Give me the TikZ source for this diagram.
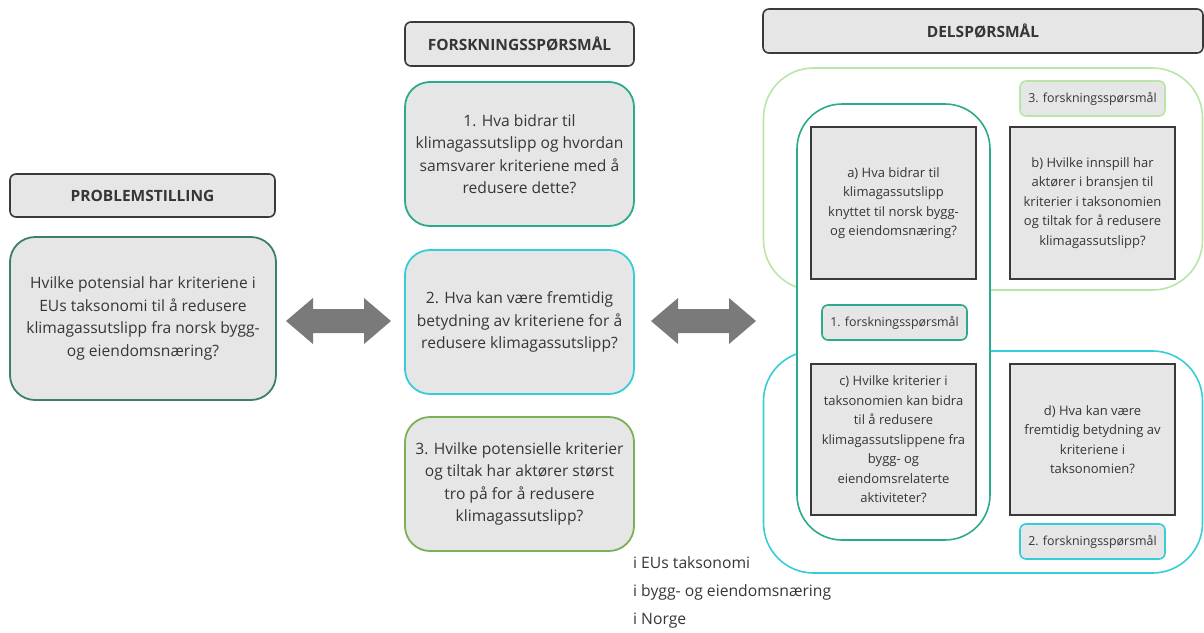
\documentclass[tikz,border=0pt]{standalone}
\usepackage{fontspec}
\setmainfont{Open Sans}
\usetikzlibrary{positioning}

\definecolor{boxgray}{HTML}{E6E6E6}
\definecolor{txtgray}{HTML}{363636}
\definecolor{framedark}{HTML}{3A3A3A}
\definecolor{probgreen}{HTML}{3E7F6C}
\definecolor{tealq}{HTML}{2BAA8C}
\definecolor{cyanq}{HTML}{36CCD8}
\definecolor{greenq}{HTML}{7DAF55}
\definecolor{lightgreen}{HTML}{B9E6A6}
\definecolor{arrowgray}{HTML}{7A7A7A}

\newcommand{\fs}[2]{\fontsize{#1}{#2}\selectfont}

\tikzset{
  header/.style={draw=framedark,line width=1.6pt,fill=boxgray,rounded corners=6pt,
    font=\bfseries\fs{15.5}{18},text=txtgray},
  qbox/.style={fill=boxgray,rounded corners=25pt,line width=1.8pt,align=center,
    minimum width=229,minimum height=144,font=\fs{15.6}{22.5},text=txtgray},
  subbox/.style={draw=framedark,line width=1.8pt,fill=boxgray,align=center,
    minimum width=165,minimum height=152,font=\fs{13}{19.5},text=txtgray},
  tagbox/.style={rounded corners=6pt,line width=1.6pt,fill=boxgray,
    minimum width=145,minimum height=35,font=\fs{12.4}{14},text=txtgray},
  group/.style={rounded corners=50pt,line width=1.6pt}
}

\begin{document}
\begin{tikzpicture}[x=1pt,y=-1pt]
\useasboundingbox (0,0) rectangle (1204,632);

% venstre kolonne
\node[header,minimum width=265,minimum height=43] (hdProblem) at (142.5,195.5) {PROBLEMSTILLING};
\node[qbox,draw=probgreen,minimum width=266,minimum height=163] (problem) at (143,318.5)
  {Hvilke potensial har kriteriene i\\EUs taksonomi til å redusere\\klimagassutslipp fra norsk bygg-\\og eiendomsnæring?};

% midtre kolonne
\node[header,minimum width=229,minimum height=44] (hdForsk) at (519.5,44) {FORSKNINGSSPØRSMÅL};
\node[qbox,draw=tealq] (q1) at (519.5,154)
  {1. Hva bidrar til\\klimagassutslipp og hvordan\\samsvarer kriteriene med å\\redusere dette?};
\node[qbox,draw=cyanq] (q2) at (519.5,322)
  {2. Hva kan være fremtidig\\betydning av kriteriene for å\\redusere klimagassutslipp?};
\node[qbox,draw=greenq,minimum height=134] (q3) at (519.5,484)
  {3. Hvilke potensielle kriterier\\og tiltak har aktører størst\\tro på for å redusere\\klimagassutslipp?};

% piler
\foreach \s in {0,365}
  \fill[arrowgray,xshift=\s] (286,321)--(313,298)--(313,309)--(364,309)--(364,298)--(391,321)
    --(364,344)--(364,333)--(313,333)--(313,344)--cycle;

% hoyre kolonne
\node[header,minimum width=440,minimum height=44] (hdDels) at (983,31) {DELSPØRSMÅL};
\node[group,draw=lightgreen,minimum width=439,minimum height=222] (grpThree) at (983,179) {};
\node[group,draw=cyanq,minimum width=439,minimum height=222] (grpTwo) at (983,462) {};
\node[group,draw=tealq,fill=white,rounded corners=45pt,minimum width=193,minimum height=436] (grpOne) at (893.5,322) {};

\node[tagbox,draw=lightgreen] (tagThree) at (1092.5,98.5) {3. forskningsspørsmål};
\node[tagbox,draw=tealq] (tagOne) at (894.5,322.5) {1. forskningsspørsmål};
\node[tagbox,draw=cyanq] (tagTwo) at (1092.5,541.5) {2. forskningsspørsmål};

\node[subbox] (a) at (893.5,203)
  {a) Hva bidrar til\\klimagassutslipp\\knyttet til norsk bygg-\\og eiendomsnæring?};
\node[subbox] (b) at (1092.5,203)
  {b) Hvilke innspill har\\aktører i bransjen til\\kriterier i taksonomien\\og tiltak for å redusere\\klimagassutslipp?};
\node[subbox,minimum height=151] (c) at (893.5,439.5)
  {c) Hvilke kriterier i\\taksonomien kan bidra\\til å redusere\\klimagassutslippene fra\\bygg- og\\eiendomsrelaterte\\aktiviteter?};
\node[subbox,minimum height=151] (d) at (1092.5,439.5)
  {d) Hva kan være\\fremtidig betydning av\\kriteriene i\\taksonomien?};

% avgrensning
\node[anchor=west,inner sep=0pt,font=\fs{15.7}{18},text=txtgray] (scopeEU) at (633,563) {i EUs taksonomi};
\node[anchor=west,inner sep=0pt,font=\fs{15.7}{18},text=txtgray] (scopeBygg) at (633,592) {i bygg- og eiendomsnæring};
\node[anchor=west,inner sep=0pt,font=\fs{15.7}{18},text=txtgray] (scopeNorge) at (633,621) {i Norge};
\end{tikzpicture}
\end{document}
